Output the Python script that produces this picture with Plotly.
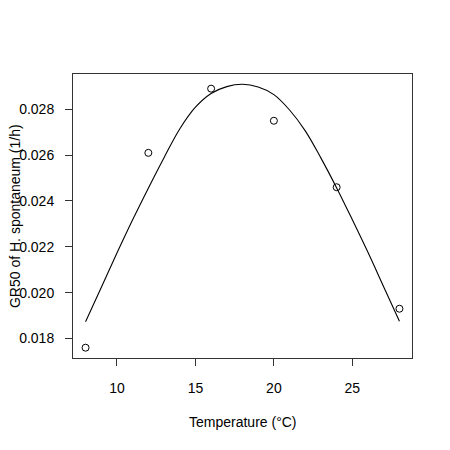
import plotly.graph_objects as go

# observed growth rates (GR50) per temperature
temp_obs = [8, 12, 16, 20, 24, 28]
gr50_obs = [0.0176, 0.0261, 0.0289, 0.0275, 0.0246, 0.0193]

# fitted curve at whole degrees
temp_fit = [8, 9, 10, 11, 12, 13, 14, 15, 16, 17, 18,
            19, 20, 21, 22, 23, 24, 25, 26, 27, 28]
gr50_fit = [0.01873, 0.02023, 0.02173, 0.02318, 0.02456, 0.02589, 0.02714,
            0.02809, 0.02869, 0.02899, 0.02909, 0.02897, 0.02864, 0.02797,
            0.02706, 0.02587, 0.02457, 0.02318, 0.02175, 0.02025, 0.01875]

x_ticks = [10, 15, 20, 25]
y_ticks = [0.018, 0.020, 0.022, 0.024, 0.026, 0.028]

FONT = "Liberation Sans, Arial, sans-serif"

fig = go.Figure()
fig.add_trace(go.Scatter(
    x=temp_fit, y=gr50_fit, mode="lines", line_shape="spline",
    line=dict(color="black", width=1.1), hoverinfo="skip",
))
fig.add_trace(go.Scatter(
    x=temp_obs, y=gr50_obs, mode="markers",
    marker=dict(symbol="circle-open", size=7, color="black", line=dict(width=1)),
))

axis_style = dict(
    showgrid=False, zeroline=False, showline=True, mirror=True,
    linecolor="#333", linewidth=1, ticks="outside", ticklen=7,
    tickcolor="#333", tickfont=dict(size=14, color="black", family=FONT),
)
fig.update_xaxes(range=[7.2, 28.8], tickvals=x_ticks, ticklabelstandoff=10, **axis_style)
fig.update_yaxes(range=[0.01715, 0.02954], tickvals=y_ticks, tickformat=".3f",
                 ticklabelstandoff=8, **axis_style)

fig.add_annotation(text="Temperature (°C)", xref="paper", yref="paper",
                   x=0.5, y=-0.2256, xanchor="center", yanchor="middle",
                   showarrow=False, font=dict(size=14, color="black", family=FONT))
fig.add_annotation(text="GR50 of H. spontaneum (1/h)", xref="paper", yref="paper",
                   x=-0.171, y=0.5, xanchor="center", yanchor="middle", textangle=-90,
                   showarrow=False, font=dict(size=14, color="black", family=FONT))

# page body adds ~8px offset, so margins are shifted to compensate
fig.update_layout(
    width=450, height=450, showlegend=False,
    paper_bgcolor="white", plot_bgcolor="white",
    margin=dict(l=65, r=46, t=66, b=100),
)

fig.write_html("out.html")
